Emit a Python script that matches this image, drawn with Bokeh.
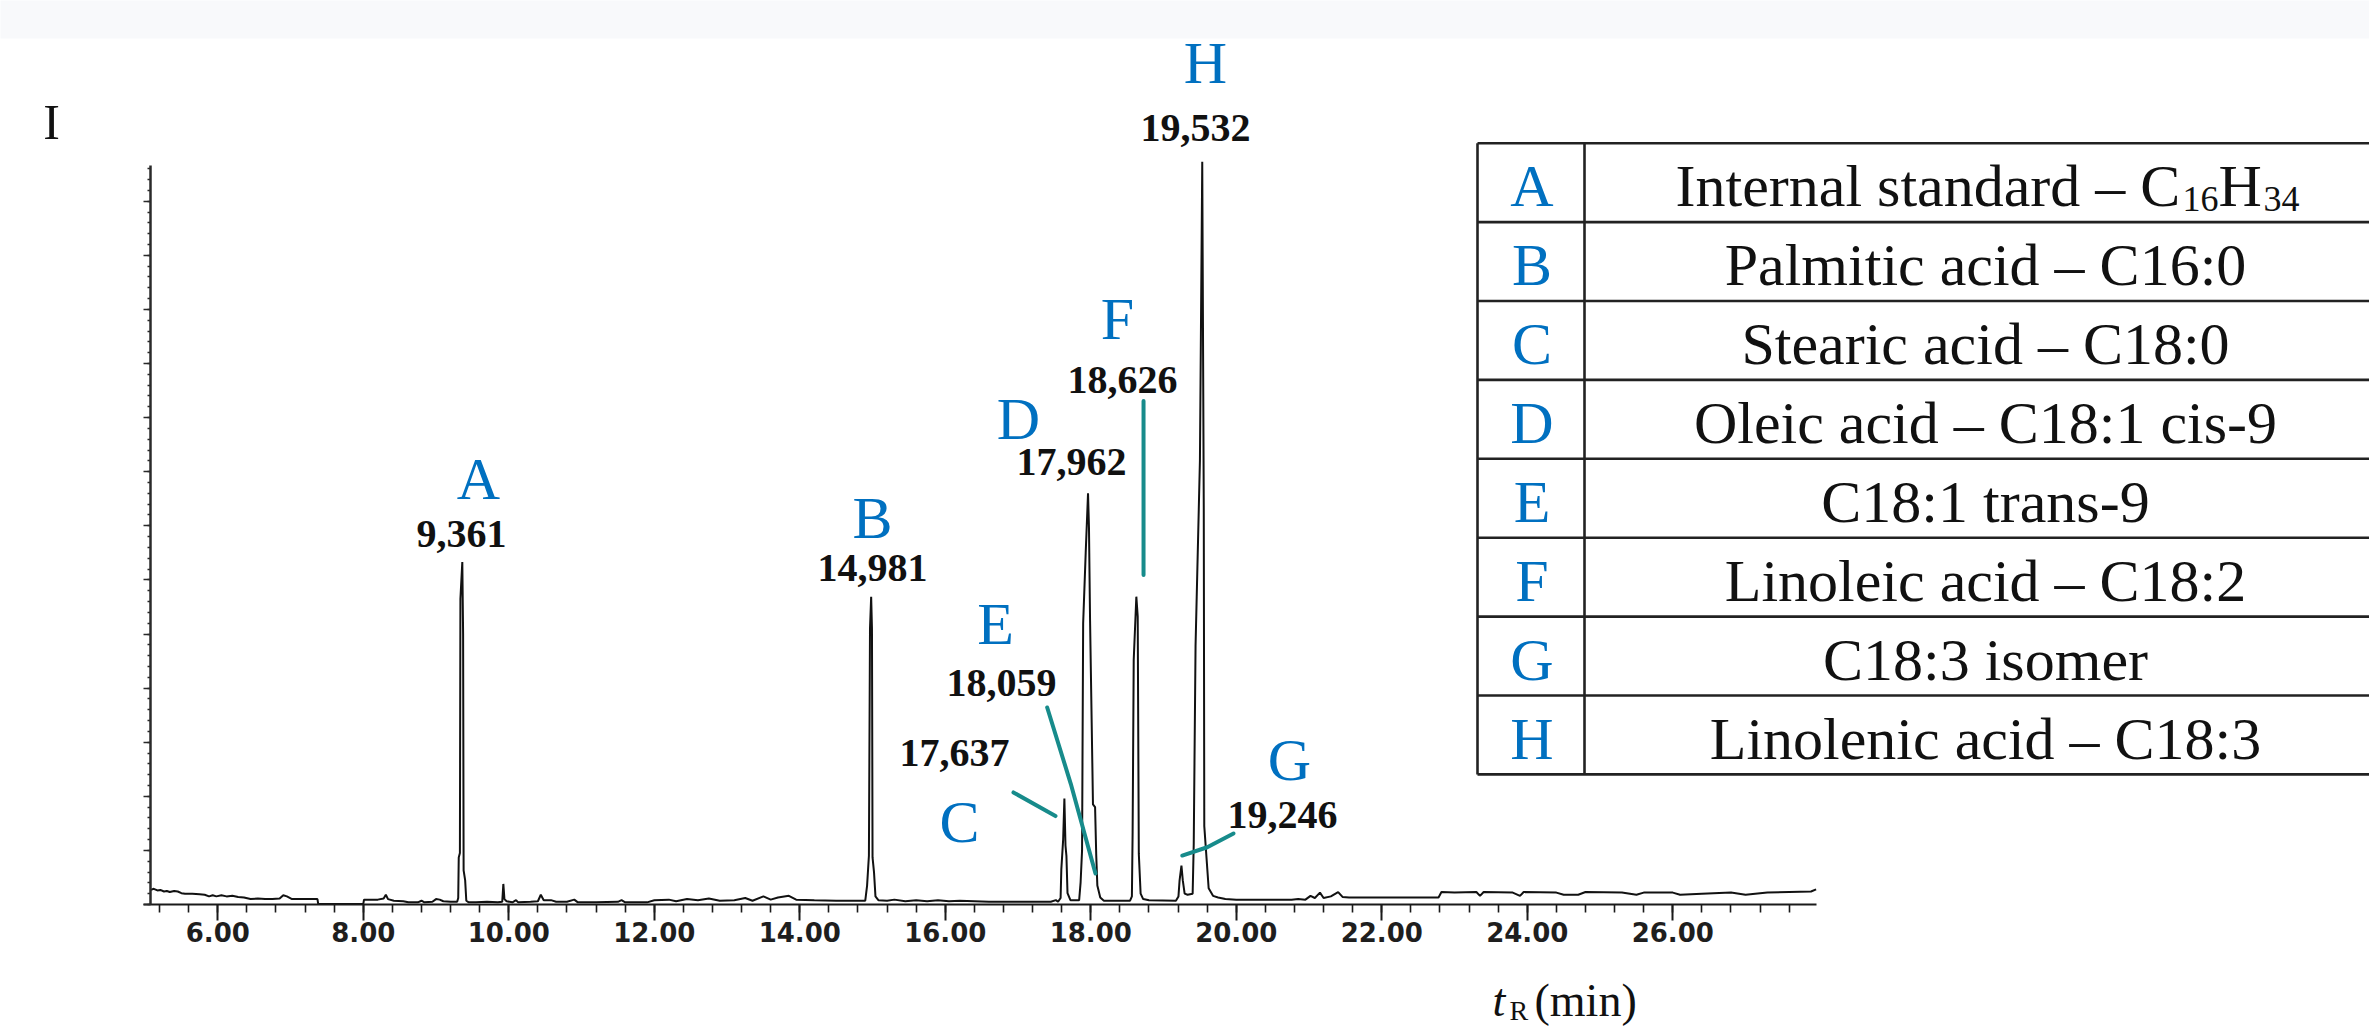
from bokeh.plotting import figure
from bokeh.models import (Range1d, FixedTicker, NumeralTickFormatter, CustomJSTickFormatter,
                          Label)
from bokeh.core.properties import value
from bokeh.embed import file_html
from bokeh.resources import INLINE

# ---------------- data ----------------
retention_time = [
    5.08, 5.12, 5.17, 5.21, 5.26, 5.30, 5.34, 5.40, 5.45, 5.50, 5.55, 5.65, 5.75, 5.82, 5.88,
    5.93, 5.98, 6.05, 6.12, 6.20, 6.28, 6.36, 6.45, 6.55, 6.65, 6.75, 6.85, 6.90, 6.95, 7.02,
    7.15, 7.30, 7.37, 7.38, 7.70, 8.00, 8.01, 8.20, 8.28, 8.31, 8.34, 8.42, 8.55, 8.62, 8.75,
    8.80, 8.84, 8.95, 9.00, 9.05, 9.10, 9.20, 9.29,
    9.305, 9.312, 9.328, 9.335, 9.361, 9.372, 9.379, 9.40, 9.416, 9.45,
    9.55, 9.70, 9.85, 9.91, 9.925, 9.94, 9.97, 10.05, 10.10, 10.13, 10.30, 10.40, 10.44, 10.48,
    10.58, 10.65, 10.80, 10.90, 10.95, 11.20, 11.50, 11.55, 11.60, 11.90, 12.00, 12.20, 12.30,
    12.45, 12.60, 12.75, 12.90, 13.10, 13.25, 13.35, 13.50, 13.60, 13.70, 13.85, 13.95, 14.20,
    14.50, 14.80, 14.90,
    14.925, 14.95, 14.965, 14.981, 14.992, 15.00, 15.02, 15.04, 15.08,
    15.20, 15.30, 15.45, 15.60, 15.75, 15.90, 16.05, 16.20, 16.40, 16.60, 16.90, 17.20, 17.45,
    17.52, 17.55,
    17.585, 17.595, 17.62, 17.637, 17.652, 17.665, 17.68, 17.72, 17.84,
    17.86, 17.88, 17.895, 17.93, 17.962, 17.975, 17.99, 18.03,
    18.059, 18.075, 18.09, 18.13, 18.18, 18.54,
    18.565, 18.575, 18.59, 18.626, 18.645, 18.66, 18.685, 18.72, 18.80, 19.17,
    19.205, 19.22, 19.246, 19.265, 19.29, 19.33, 19.40,
    19.415, 19.44, 19.50, 19.532, 19.553, 19.56, 19.62, 19.68, 19.75,
    19.85, 20.00, 20.30, 20.76, 20.85, 20.95, 21.02, 21.08, 21.15, 21.20, 21.30, 21.40, 21.46,
    21.55, 22.00, 22.40, 22.78, 22.82, 23.00, 23.30, 23.35, 23.40, 23.80, 23.90, 23.95, 24.40,
    24.50, 24.70, 24.80, 25.30, 25.50, 25.60, 26.00, 26.10, 26.40, 26.80, 27.00, 27.30, 27.60,
    27.90, 27.97,
]
intensity = [
    0.27, 0.29, 0.26, 0.27, 0.24, 0.25, 0.23, 0.25, 0.24, 0.21, 0.20, 0.20, 0.19, 0.18, 0.15,
    0.17, 0.15, 0.17, 0.15, 0.16, 0.14, 0.13, 0.10, 0.11, 0.10, 0.10, 0.11, 0.17, 0.15, 0.10,
    0.10, 0.10, 0.10, 0.01, 0.01, 0.01, 0.09, 0.09, 0.11, 0.18, 0.10, 0.07, 0.06, 0.04, 0.04,
    0.07, 0.04, 0.05, 0.10, 0.09, 0.06, 0.05, 0.05,
    0.12, 0.87, 0.95, 5.65, 6.33, 5.00, 0.63, 0.45, 0.07, 0.04,
    0.04, 0.05, 0.04, 0.05, 0.38, 0.10, 0.06, 0.04, 0.08, 0.04, 0.05, 0.06, 0.18, 0.08,
    0.08, 0.05, 0.05, 0.09, 0.04, 0.04, 0.05, 0.08, 0.04, 0.04, 0.08, 0.09, 0.06,
    0.10, 0.08, 0.11, 0.07, 0.08, 0.12, 0.07, 0.15, 0.09, 0.13, 0.16, 0.09, 0.08,
    0.07, 0.07, 0.07,
    0.35, 0.90, 5.10, 5.69, 5.10, 0.87, 0.60, 0.15, 0.08,
    0.07, 0.09, 0.06, 0.08, 0.06, 0.08, 0.06, 0.07, 0.06, 0.05, 0.05, 0.05, 0.05,
    0.08, 0.05,
    0.12, 0.65, 1.20, 1.96, 1.09, 0.90, 0.21, 0.08, 0.08,
    0.41, 1.00, 5.20, 6.50, 7.60, 6.97, 5.25, 1.85,
    1.80, 0.90, 0.35, 0.13, 0.07, 0.07,
    0.15, 1.34, 4.52, 5.69, 5.32, 0.94, 0.20, 0.10, 0.08, 0.07,
    0.15, 0.44, 0.72, 0.44, 0.20, 0.18, 0.20,
    1.12, 4.78, 8.20, 13.73, 7.30, 1.45, 0.30, 0.16, 0.13,
    0.10, 0.09, 0.09, 0.09, 0.10, 0.09, 0.16, 0.12, 0.22, 0.12, 0.15, 0.23, 0.14,
    0.13, 0.13, 0.13, 0.13, 0.23, 0.22, 0.23, 0.16, 0.23, 0.22, 0.16, 0.23, 0.22,
    0.18, 0.18, 0.23, 0.22, 0.18, 0.22, 0.22, 0.18, 0.20, 0.22, 0.18, 0.22, 0.23,
    0.24, 0.28,
]

peak_ids = ["A", "B", "C", "D", "E", "F", "G", "H"]
peak_rt = [9.361, 14.981, 17.637, 17.962, 18.059, 18.626, 19.246, 19.532]
peak_height = [6.33, 5.69, 1.96, 7.60, 1.80, 5.69, 0.72, 13.73]
peak_rt_text = ["9,361", "14,981", "17,637", "17,962", "18,059", "18,626", "19,246", "19,532"]
compound_names = [
    "Internal standard – C16H34",
    "Palmitic acid – C16:0",
    "Stearic acid – C18:0",
    "Oleic acid – C18:1 cis-9",
    "C18:1 trans-9",
    "Linoleic acid – C18:2",
    "C18:3 isomer",
    "Linolenic acid – C18:3",
]
x_major_ticks = [6, 8, 10, 12, 14, 16, 18, 20, 22, 24, 26]
x_minor_ticks = [round(5.2 + 0.4 * k, 1) for k in range(57)]
y_major_ticks = list(range(0, 14))
y_minor_ticks = [round(0.2 * k, 1) for k in range(69)]

# ---------------- layout (canvas pixels) ----------------
W, H = 2369, 1026
AX_X, AX_Y = 150, 904         # pixel position of the axes corner
PPM, PPU = 72.75, 54.1        # px per minute, px per intensity unit
X0 = 5.075                    # time at the y axis
AX_END = 27.97
Y_AX_END = 13.66
BASE_CORR = 0.32              # baseline correction (fraction of font size)

def dxp(px):
    return X0 + (px - AX_X) / PPM

def dyp(py):
    return (AX_Y - py) / PPU

def base(py, size):
    """data y for a text whose alphabetic baseline should sit at pixel row py"""
    return dyp(py - BASE_CORR * size)

BLUE = "#0070C0"
TEAL = "#178b8b"
INK = "#111111"
SERIF = "Liberation Serif"

# label offsets from each peak apex (px, +down)
letter_off = {"A": (16, -63.5), "B": (1.3, -59), "C": (-105, 43), "D": (-69.5, -54.8),
              "E": (-99.6, -163.6), "F": (-18.8, -258), "G": (108, -86), "H": (3.2, -80)}
number_off = {"A": (-0.8, -15), "B": (1.3, -16), "C": (-110, -32.5), "D": (-16.5, -18.3),
              "E": (-93.6, -111), "F": (-13.8, -203.7), "G": (101, -38), "H": (-6.8, -20.7)}
leader_off = {"C": [(-50.9, -6), (-8.9, 17.6)],
              "E": [(-47.9, -99.6), (-24.3, -23.3), (0.4, 66.4)],
              "F": [(7.2, -195.7), (7.2, -21.7)],
              "G": [(52.1, -32), (25.8, -18.3), (0.8, -10)]}

p = figure(width=W, height=H, output_backend="svg", toolbar_location=None,
           x_range=Range1d(dxp(0), dxp(W)), y_range=Range1d(dyp(H), dyp(0)),
           min_border_left=0, min_border_right=0, min_border_top=0, min_border_bottom=0)
p.outline_line_color = None
p.xgrid.visible = False
p.ygrid.visible = False
p.background_fill_color = "white"
p.border_fill_color = "white"

# top light band
p.quad(left=[dxp(-5)], right=[dxp(W + 5)], bottom=[dyp(38)], top=[dyp(-5)],
       fill_color="#f8f9fb", line_color=None, level="underlay")

# axes placed at fixed data locations inside the frame
xa = p.xaxis[0]
xa.fixed_location = 0
xa.ticker = FixedTicker(ticks=x_major_ticks, minor_ticks=x_minor_ticks)
xa.formatter = NumeralTickFormatter(format="0.00")
xa.bounds = (X0 - 7 / PPM, AX_END)
xa.axis_line_width = 2
xa.axis_line_color = "#1a1a1a"
xa.major_tick_in = 0
xa.major_tick_out = 16
xa.minor_tick_in = 0
xa.minor_tick_out = 8
xa.major_tick_line_width = 2
xa.minor_tick_line_width = 1.6
xa.major_tick_line_color = "#1a1a1a"
xa.minor_tick_line_color = "#1a1a1a"
xa.major_label_text_font = "DejaVu Sans"
xa.major_label_text_font_size = "26px"
xa.major_label_text_font_style = "bold"
xa.major_label_text_color = "#1e1e1e"
xa.major_label_standoff = 1

ya = p.yaxis[0]
ya.fixed_location = X0
ya.ticker = FixedTicker(ticks=y_major_ticks, minor_ticks=y_minor_ticks)
ya.formatter = CustomJSTickFormatter(code="return ''")
ya.bounds = (0, Y_AX_END)
ya.axis_line_width = 2.5
ya.axis_line_color = "#2a2a2a"
ya.major_tick_in = 0
ya.major_tick_out = 7
ya.minor_tick_in = 0
ya.minor_tick_out = 3
ya.major_tick_line_width = 1.6
ya.minor_tick_line_width = 1.3
ya.major_tick_line_color = "#2a2a2a"
ya.minor_tick_line_color = "#2a2a2a"
ya.major_label_standoff = 0

# chromatogram trace
p.line(retention_time, intensity, line_color=INK, line_width=2.0)

# peak annotations
lx, ly, nx, ny = [], [], [], []
for pid, t, h in zip(peak_ids, peak_rt, peak_height):
    ox, oy = letter_off[pid]
    lx.append(t + ox / PPM)
    ly.append(h - (oy - BASE_CORR * 60) / PPU)
    ox, oy = number_off[pid]
    nx.append(t + ox / PPM)
    ny.append(h - (oy - BASE_CORR * 40) / PPU)
p.text(x=lx, y=ly, text=peak_ids, text_font=value(SERIF), text_font_size=value("60px"),
       text_color=BLUE, text_align="center", text_baseline="alphabetic")
p.text(x=nx, y=ny, text=peak_rt_text, text_font=value(SERIF), text_font_size=value("40px"),
       text_font_style="bold", text_color=INK, text_align="center", text_baseline="alphabetic")

xs_l, ys_l = [], []
for pid, t, h in zip(peak_ids, peak_rt, peak_height):
    if pid in leader_off:
        xs_l.append([t + ox / PPM for ox, oy in leader_off[pid]])
        ys_l.append([h - oy / PPU for ox, oy in leader_off[pid]])
p.multi_line(xs_l, ys_l, line_color=TEAL, line_width=4, line_cap="round", line_join="round")

# ---------------- legend table ----------------
T_LEFT, T_DIV, T_TOP, ROW_H = 1477, 1584, 142.7, 78.9
T_RIGHT = W + 60
n = len(peak_ids)
hx = [[dxp(T_LEFT), dxp(T_RIGHT)] for _ in range(n + 1)]
hy = [[dyp(T_TOP + ROW_H * k)] * 2 for k in range(n + 1)]
vx = [[dxp(T_LEFT)] * 2, [dxp(T_DIV)] * 2]
vy = [[dyp(T_TOP), dyp(T_TOP + ROW_H * n)]] * 2
p.multi_line(hx + vx, hy + vy, line_color="#222222", line_width=2.6)

LET_CX, DESC_CX = 1531.5, 1985
row_base = [205 + ROW_H * i for i in range(n)]
p.text(x=[dxp(LET_CX)] * n, y=[base(b, 60) for b in row_base], text=peak_ids,
       text_font=value(SERIF), text_font_size=value("60px"), text_color=BLUE,
       text_align="center", text_baseline="alphabetic")
p.text(x=[dxp(DESC_CX)] * (n - 1), y=[base(b, 60) for b in row_base[1:]],
       text=compound_names[1:], text_font=value(SERIF), text_font_size=value("60px"),
       text_color=INK, text_align="center", text_baseline="alphabetic")
# first row with subscripts: "Internal standard – C" + "16" + "H" + "34"
first_main = compound_names[0][:-5]
sub1, mid, sub2 = compound_names[0][-5:-3], compound_names[0][-3], compound_names[0][-2:]
start = 1675
p.text(x=[dxp(start), dxp(start + 543)], y=[base(row_base[0], 60)] * 2, text=[first_main, mid],
       text_font=value(SERIF), text_font_size=value("60px"), text_color=INK,
       text_align="left", text_baseline="alphabetic")
p.text(x=[dxp(start + 507), dxp(start + 588)], y=[base(row_base[0] + 5, 36)] * 2,
       text=[sub1, sub2], text_font=value(SERIF), text_font_size=value("36px"),
       text_color=INK, text_align="left", text_baseline="alphabetic")

# ---------------- outer labels ----------------
p.add_layout(Label(x=dxp(51), y=base(137, 50), text="I", text_font=SERIF,
                   text_font_size="50px", text_color=INK, text_align="center",
                   text_baseline="alphabetic"))
p.add_layout(Label(x=dxp(1492), y=base(1015, 46), text="t", text_font=SERIF,
                   text_font_size="46px", text_font_style="italic", text_color=INK,
                   text_baseline="alphabetic"))
p.add_layout(Label(x=dxp(1509), y=base(1019, 28), text="R", text_font=SERIF,
                   text_font_size="28px", text_color=INK, text_baseline="alphabetic"))
p.add_layout(Label(x=dxp(1534), y=base(1015, 46), text="(min)", text_font=SERIF,
                   text_font_size="46px", text_color=INK, text_baseline="alphabetic"))

open("out.html", "w").write(file_html(p, INLINE))
